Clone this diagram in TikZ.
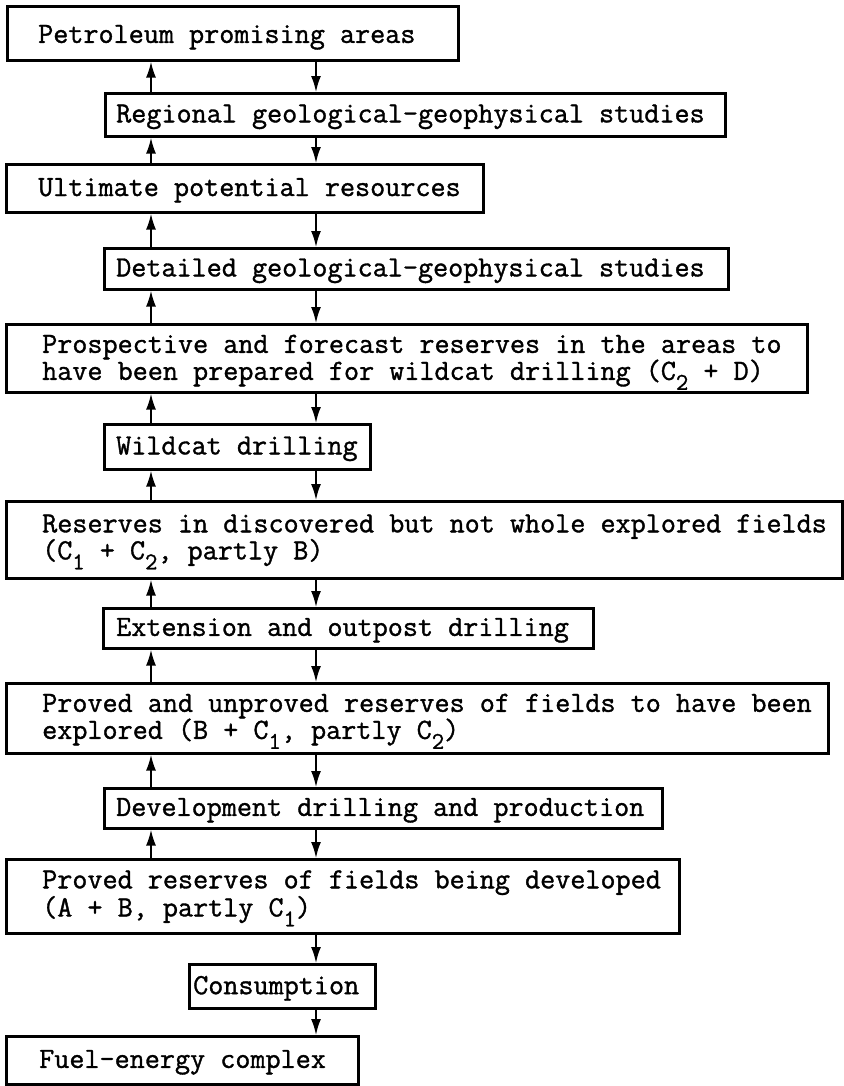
\documentclass[tikz,border=0pt]{standalone}
\usepackage{fontspec}
\setmainfont{Latin Modern Mono}[FakeBold=1.2]
\usetikzlibrary{arrows.meta}
% lowered index after a category letter, e.g. C with index 1
\newcommand\lsub[1]{\raisebox{-0.34em}{\fontsize{24bp}{24bp}\selectfont #1}}
\begin{document}
\begin{tikzpicture}[x=1bp,y=-1bp,
  stagebox/.style={draw, line width=2.6bp, inner sep=0pt, anchor=north west},
  boxtext/.style={inner sep=0pt, anchor=west, align=left,
    font=\fontsize{29.3bp}{27bp}\selectfont},
  flow/.style={line width=1.8bp, -{Latex[length=16bp,width=10bp]}}]
\useasboundingbox (0,0) rectangle (844,1086);

% vertical lines carrying the upward and downward arrows
\coordinate (ux) at (151,0);
\coordinate (dx) at (316,0);

% stages
\node[stagebox, minimum width=451bp, minimum height=54bp] (b1)  at (6,5) {};
\node[stagebox, minimum width=620bp, minimum height=43bp] (b2)  at (104,92) {};
\node[stagebox, minimum width=477bp, minimum height=48bp] (b3)  at (5,163) {};
\node[stagebox, minimum width=624bp, minimum height=41bp] (b4)  at (103,247) {};
\node[stagebox, minimum width=801bp, minimum height=68bp] (b5)  at (5,323) {};
\node[stagebox, minimum width=266bp, minimum height=45bp] (b6)  at (103,423) {};
\node[stagebox, minimum width=836bp, minimum height=77bp] (b7)  at (5,500) {};
\node[stagebox, minimum width=490bp, minimum height=40bp] (b8)  at (102,607) {};
\node[stagebox, minimum width=822bp, minimum height=70bp] (b9)  at (5,682) {};
\node[stagebox, minimum width=558bp, minimum height=40bp] (b10) at (103,787) {};
\node[stagebox, minimum width=673bp, minimum height=74bp] (b11) at (5,858) {};
\node[stagebox, minimum width=186bp, minimum height=44bp] (b12) at (188,963) {};
\node[stagebox, minimum width=352bp, minimum height=48bp] (b13) at (5,1035) {};

% texts
\node[boxtext] (t1)  at ([xshift=32bp,yshift=-4bp]b1.west)  {Petroleum promising areas};
\node[boxtext] (t2)  at ([xshift=12bp,yshift=-2bp]b2.west)  {Regional geological-geophysical studies};
\node[boxtext] (t3)  at ([xshift=33bp,yshift=-2bp]b3.west)  {Ultimate potential resources};
\node[boxtext] (t4)  at ([xshift=13bp,yshift=-2bp]b4.west)  {Detailed geological-geophysical studies};
\node[boxtext] (t5)  at ([xshift=37bp,yshift=-4bp]b5.west)  {Prospective and forecast reserves in the areas to\\have been prepared for wildcat drilling (C\lsub{2} + D)};
\node[boxtext] (t6)  at ([xshift=13bp,yshift=-2bp]b6.west)  {Wildcat drilling};
\node[boxtext] (t7)  at ([xshift=37bp,yshift=-2bp]b7.west)  {Reserves in discovered but not whole explored fields\\(C\lsub{1} + C\lsub{2}, partly B)};
\node[boxtext] (t8)  at ([xshift=14bp,yshift=-2bp]b8.west)  {Extension and outpost drilling};
\node[boxtext] (t9)  at ([xshift=37bp,yshift=-3bp]b9.west)  {Proved and unproved reserves of fields to have been\\explored (B + C\lsub{1}, partly C\lsub{2})};
\node[boxtext] (t10) at ([xshift=13bp,yshift=-2bp]b10.west) {Development drilling and production};
\node[boxtext] (t11) at ([xshift=37bp,yshift=-2bp]b11.west) {Proved reserves of fields being developed\\(A + B, partly C\lsub{1})};
\node[boxtext] (t12) at ([xshift=5bp,yshift=-2bp]b12.west)  {Consumption};
\node[boxtext] (t13) at ([xshift=34bp,yshift=-2bp]b13.west) {Fuel-energy complex};

% downward flow
\foreach \a/\b in {b1/b2,b2/b3,b3/b4,b4/b5,b5/b6,b6/b7,b7/b8,b8/b9,b9/b10,b10/b11,b11/b12,b12/b13}
  \draw[flow] (\a.south -| dx) -- (\b.north -| dx);
% upward feedback
\foreach \a/\b in {b2/b1,b3/b2,b4/b3,b5/b4,b6/b5,b7/b6,b8/b7,b9/b8,b10/b9,b11/b10}
  \draw[flow] (\a.north -| ux) -- (\b.south -| ux);
\end{tikzpicture}
\end{document}
